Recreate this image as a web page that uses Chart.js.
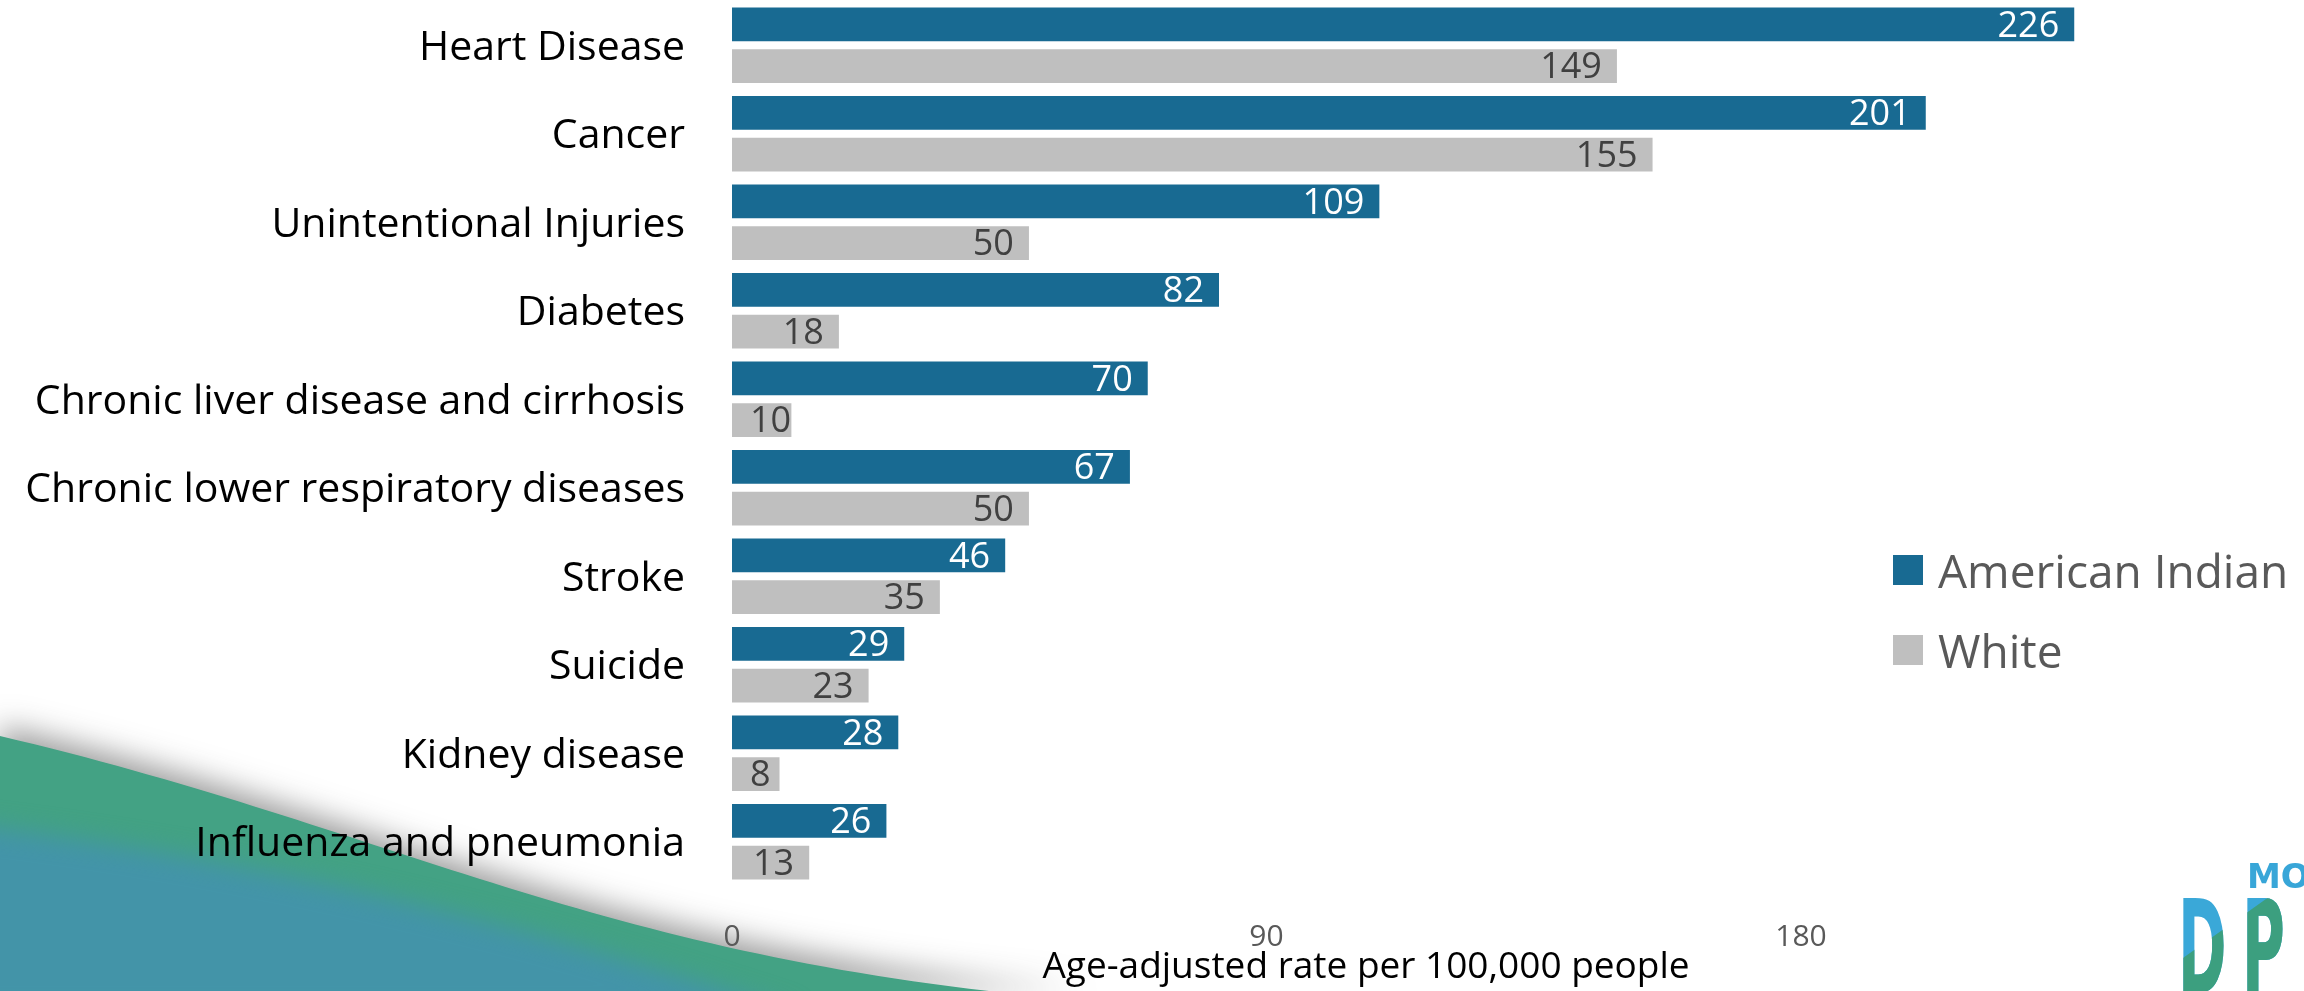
<!DOCTYPE html>
<html>
<head>
<meta charset="utf-8">
<title>Leading causes of death, American Indian vs White</title>
<script src="https://cdn.jsdelivr.net/npm/chart.js@4.4.1/dist/chart.umd.min.js"></script>
<style>
  html, body { margin: 0; padding: 0; background: #ffffff; }
  .wrap { position: relative; width: 2304px; height: 991px; overflow: hidden; }
  #legend { position: absolute; left: 1893px; top: 530px; font-family: 'Open Sans', sans-serif; font-size: 46px; color: #595959; }
  .item { display: flex; align-items: center; height: 80px; white-space: nowrap; }
  .box { width: 30px; height: 30px; margin-right: 15px; flex: none; }
</style>
</head>
<body>
<div class="wrap">
  <canvas id="chart" width="2304" height="991"></canvas>
  <div id="legend"></div>
</div>
<script>
const categories = [
  'Heart Disease',
  'Cancer',
  'Unintentional Injuries',
  'Diabetes',
  'Chronic liver disease and cirrhosis',
  'Chronic lower respiratory diseases',
  'Stroke',
  'Suicide',
  'Kidney disease',
  'Influenza and pneumonia'
];
const americanIndian = [226, 201, 109, 82, 70, 67, 46, 29, 28, 26];
const white = [149, 155, 50, 18, 10, 50, 35, 23, 8, 13];
const xTicks = [0, 90, 180];
const seriesNames = ['American Indian', 'White'];
const seriesColors = ['#186a92', '#bfbfbf'];
const labelColors = ['#ffffff', '#404040'];

Chart.defaults.font.family = "'Open Sans', sans-serif";

// slide decoration: swoosh bottom left + logo bottom right
const backdrop = {
  id: 'backdrop',
  beforeDraw(chart) {
    const ctx = chart.ctx;
    ctx.save();
    ctx.shadowColor = 'rgba(60,60,60,0.5)';
    ctx.shadowBlur = 30;
    ctx.shadowOffsetY = -10;
    ctx.fillStyle = '#43a284';
    ctx.beginPath();
    ctx.moveTo(0, 736);
    ctx.bezierCurveTo(400, 830, 600, 960, 1080, 1000);
    ctx.lineTo(0, 1000);
    ctx.closePath();
    ctx.fill();
    ctx.restore();

    ctx.save();
    ctx.filter = 'blur(12px)';
    ctx.fillStyle = '#4394a8';
    ctx.beginPath();
    ctx.moveTo(-30, 825);
    ctx.bezierCurveTo(300, 865, 560, 935, 800, 1015);
    ctx.lineTo(-30, 1015);
    ctx.closePath();
    ctx.fill();
    ctx.restore();

    // logo
    ctx.save();
    ctx.fillStyle = '#38a6d8';
    ctx.font = "bold 34px 'DejaVu Sans'";
    ctx.textBaseline = 'alphabetic';
    ctx.fillText('MO', 2247, 888);
    ctx.restore();
    const letters = (color) => {
      ctx.fillStyle = color;
      ctx.font = "bold 130px 'DejaVu Sans'";
      ctx.textBaseline = 'alphabetic';
      ctx.translate(2178, 0);
      ctx.scale(0.45, 1);
      ctx.fillText('D', 0, 993);
      ctx.fillText('P', 142, 993);
    };
    ctx.save();
    letters('#3aa8d8');
    ctx.restore();
    ctx.save();
    ctx.beginPath();
    ctx.moveTo(2100, 958 + 0.71 * 83);
    ctx.lineTo(2330, 958 - 0.71 * 147);
    ctx.lineTo(2330, 1000);
    ctx.lineTo(2100, 1000);
    ctx.closePath();
    ctx.clip();
    letters('#3c9f7f');
    ctx.restore();
  }
};

// value labels at inside end of each bar
const valueLabels = {
  id: 'valueLabels',
  afterDatasetsDraw(chart) {
    const ctx = chart.ctx;
    ctx.save();
    ctx.font = "36px 'Open Sans'";
    ctx.textAlign = 'right';
    ctx.textBaseline = 'middle';
    chart.data.datasets.forEach((ds, i) => {
      ctx.fillStyle = labelColors[i];
      chart.getDatasetMeta(i).data.forEach((bar, j) => {
        const txt = String(ds.data[j]);
        const w = ctx.measureText(txt).width;
        const x = Math.max(bar.x - 15, bar.base + 18 + w);
        ctx.fillText(txt, x, bar.y + 2);
      });
    });
    ctx.restore();
  }
};

const chart = new Chart(document.getElementById('chart'), {
  type: 'bar',
  data: {
    labels: categories,
    datasets: [
      {
        label: seriesNames[0],
        data: americanIndian,
        backgroundColor: seriesColors[0],
        categoryPercentage: 0.94,
        barPercentage: 0.81,
        clip: false
      },
      {
        label: seriesNames[1],
        data: white,
        backgroundColor: seriesColors[1],
        categoryPercentage: 0.94,
        barPercentage: 0.81,
        clip: false
      }
    ]
  },
  options: {
    indexAxis: 'y',
    responsive: false,
    animation: false,
    layout: { padding: { top: 1, right: 304, left: 0, bottom: 0 } },
    plugins: {
      legend: { display: false },
      tooltip: { enabled: false }
    },
    scales: {
      x: {
        min: 0,
        max: 213.5,
        grid: { display: false },
        border: { display: false },
        afterBuildTicks: (s) => { s.ticks = xTicks.map(v => ({ value: v })); },
        afterFit: (s) => { s.height = 105; },
        ticks: { color: '#595959', font: { size: 30 }, padding: 25 },
        title: {
          display: true,
          text: 'Age-adjusted rate per 100,000 people',
          color: '#000000',
          font: { size: 37 },
          padding: { top: 0, bottom: 1 }
        }
      },
      y: {
        grid: { display: false },
        border: { display: false },
        afterFit: (s) => {
          s.width = 732;
          s.paddingTop = 0;
          s.paddingBottom = 0;
        },
        ticks: { color: '#000000', font: { size: 41 }, padding: 39, labelOffset: 3, autoSkip: false }
      }
    }
  },
  plugins: [backdrop, valueLabels]
});

// legend built from the datasets
const legend = document.getElementById('legend');
chart.data.datasets.forEach((ds) => {
  const item = document.createElement('div');
  item.className = 'item';
  const box = document.createElement('span');
  box.className = 'box';
  box.style.background = ds.backgroundColor;
  const label = document.createElement('span');
  label.textContent = ds.label;
  item.appendChild(box);
  item.appendChild(label);
  legend.appendChild(item);
});
</script>
</body>
</html>
